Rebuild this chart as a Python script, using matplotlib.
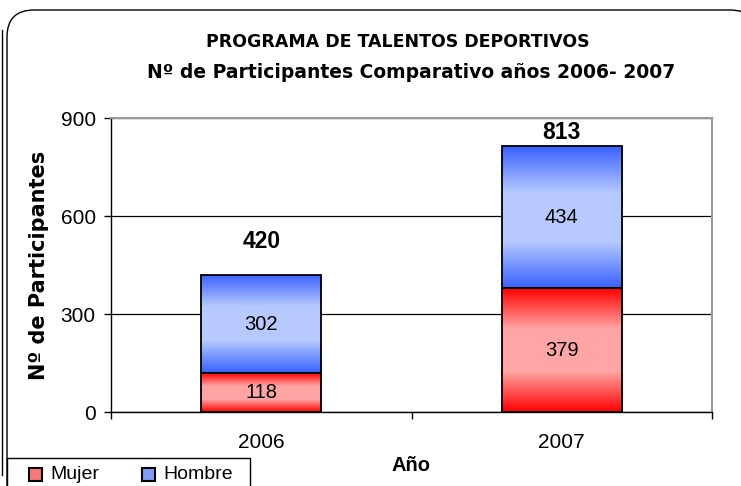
import numpy as np
import matplotlib.pyplot as plt
from matplotlib.patches import FancyBboxPatch, Rectangle
from matplotlib.lines import Line2D

plt.rcParams['font.family'] = ['Liberation Sans', 'DejaVu Sans']

# data
years = ['2006', '2007']
mujer = [118, 379]
hombre = [302, 434]
total = [420, 813]
total_label_offset = [103, 44]   # totals were placed by hand in the original

red_edge = np.array([1.0, 0.0, 0.0])
red_mid = np.array([1.0, 0.65, 0.65])
blue_edge = np.array([0.22, 0.38, 1.0])
blue_mid = np.array([0.72, 0.79, 1.0])


def gradient_bar(ax, x, bottom, height, width, c_edge, c_mid):
    # vertical gradient: saturated at top and bottom, light in the middle
    t = np.linspace(0, 1, 300)
    w = np.clip((0.5 - np.abs(t - 0.5)) / 0.33, 0, 1)
    img = c_edge[None, :] * (1 - w[:, None]) + c_mid[None, :] * w[:, None]
    img = img[:, None, :]
    x0 = x - width / 2
    im = ax.imshow(img, extent=[x0, x0 + width, bottom, bottom + height],
                   origin='lower', aspect='auto', zorder=2, interpolation='bilinear')
    rect = Rectangle((x0, bottom), width, height, facecolor='none',
                     edgecolor='black', linewidth=1.3, zorder=3)
    ax.add_patch(rect)
    im.set_clip_path(rect)


fig = plt.figure(figsize=(7.41, 4.86), dpi=100)
fig.patch.set_facecolor('white')

# outer rounded frame (in inches) and the neighbouring frame edge on the left
frame = FancyBboxPatch((0.07, -1.0), 7.5, 5.76,
                       boxstyle='round,pad=0,rounding_size=0.27',
                       transform=fig.dpi_scale_trans, facecolor='white',
                       edgecolor='black', linewidth=1.0, zorder=-5)
fig.patches.append(frame)
fig.lines.append(Line2D([2 / 741, 2 / 741], [1 - 475 / 486, 1 - 30 / 486],
                        transform=fig.transFigure, color='black', linewidth=1.0, zorder=-4))

ax = fig.add_axes([111 / 741, 1 - 412 / 486, 601 / 741, 294 / 486])
ax.set_facecolor('none')

xpos = np.arange(len(years))
width = 0.4
for i in xpos:
    gradient_bar(ax, i, 0, mujer[i], width, red_edge, red_mid)
    gradient_bar(ax, i, mujer[i], hombre[i], width, blue_edge, blue_mid)
    ax.text(i, mujer[i] / 2, str(mujer[i]), ha='center', va='center', fontsize=14.5, zorder=4)
    ax.text(i, mujer[i] + hombre[i] / 2, str(hombre[i]), ha='center', va='center',
            fontsize=14.5, zorder=4)
    ax.text(i, total[i] + total_label_offset[i], str(total[i]), ha='center', va='center',
            fontsize=16.5, fontweight='bold', zorder=4)

ax.set_xlim(-0.5, 1.5)
ax.set_ylim(0, 900)
ax.set_yticks([0, 300, 600, 900])
ax.tick_params(axis='y', labelsize=15, direction='out', length=5, width=1, pad=6)
ax.set_xticks(xpos)
ax.set_xticklabels(years)
ax.tick_params(axis='x', labelsize=15, length=0, pad=15)
ax.set_xticks([-0.5, 0.5, 1.5], minor=True)
ax.tick_params(axis='x', which='minor', direction='out', length=5, width=1)
ax.grid(axis='y', color='black', linewidth=0.9, zorder=0)
ax.set_axisbelow(True)
for s in ['top', 'right']:
    ax.spines[s].set_color('#999999')
    ax.spines[s].set_linewidth(1.5)
for s in ['left', 'bottom']:
    ax.spines[s].set_color('black')
    ax.spines[s].set_linewidth(1.0)

ax.set_ylabel('Nº de Participantes', fontsize=15, fontweight='bold', labelpad=8,
              family=['DejaVu Sans'])
ax.set_xlabel('Año', fontsize=14.5, fontweight='bold', labelpad=3)

fig.text(398 / 741, 1 - 42 / 486, 'PROGRAMA DE TALENTOS DEPORTIVOS', ha='center',
         va='center', fontsize=12.5, fontweight='bold', family=['DejaVu Sans'])
fig.text(411 / 741, 1 - 73 / 486, 'Nº de Participantes Comparativo años 2006- 2007',
         ha='center', va='center', fontsize=13.5, fontweight='bold', family=['DejaVu Sans'])

# legend box at the bottom left
fig.patches.append(Rectangle((7 / 741, -0.05), 243 / 741, 0.05 + 28 / 486,
                             transform=fig.transFigure, facecolor='white',
                             edgecolor='black', linewidth=1.0))
fig.patches.append(Rectangle((29 / 741, 1 - 481 / 486), 13 / 741, 13 / 486,
                             transform=fig.transFigure, facecolor='#f77a7a',
                             edgecolor='black', linewidth=1.5))
fig.text(50 / 741, 1 - 474 / 486, 'Mujer', ha='left', va='center', fontsize=14)
fig.patches.append(Rectangle((142 / 741, 1 - 481 / 486), 13 / 741, 13 / 486,
                             transform=fig.transFigure, facecolor='#7f9cf5',
                             edgecolor='black', linewidth=1.5))
fig.text(163 / 741, 1 - 474 / 486, 'Hombre', ha='left', va='center', fontsize=14)

fig.savefig('out.png', dpi=100)
